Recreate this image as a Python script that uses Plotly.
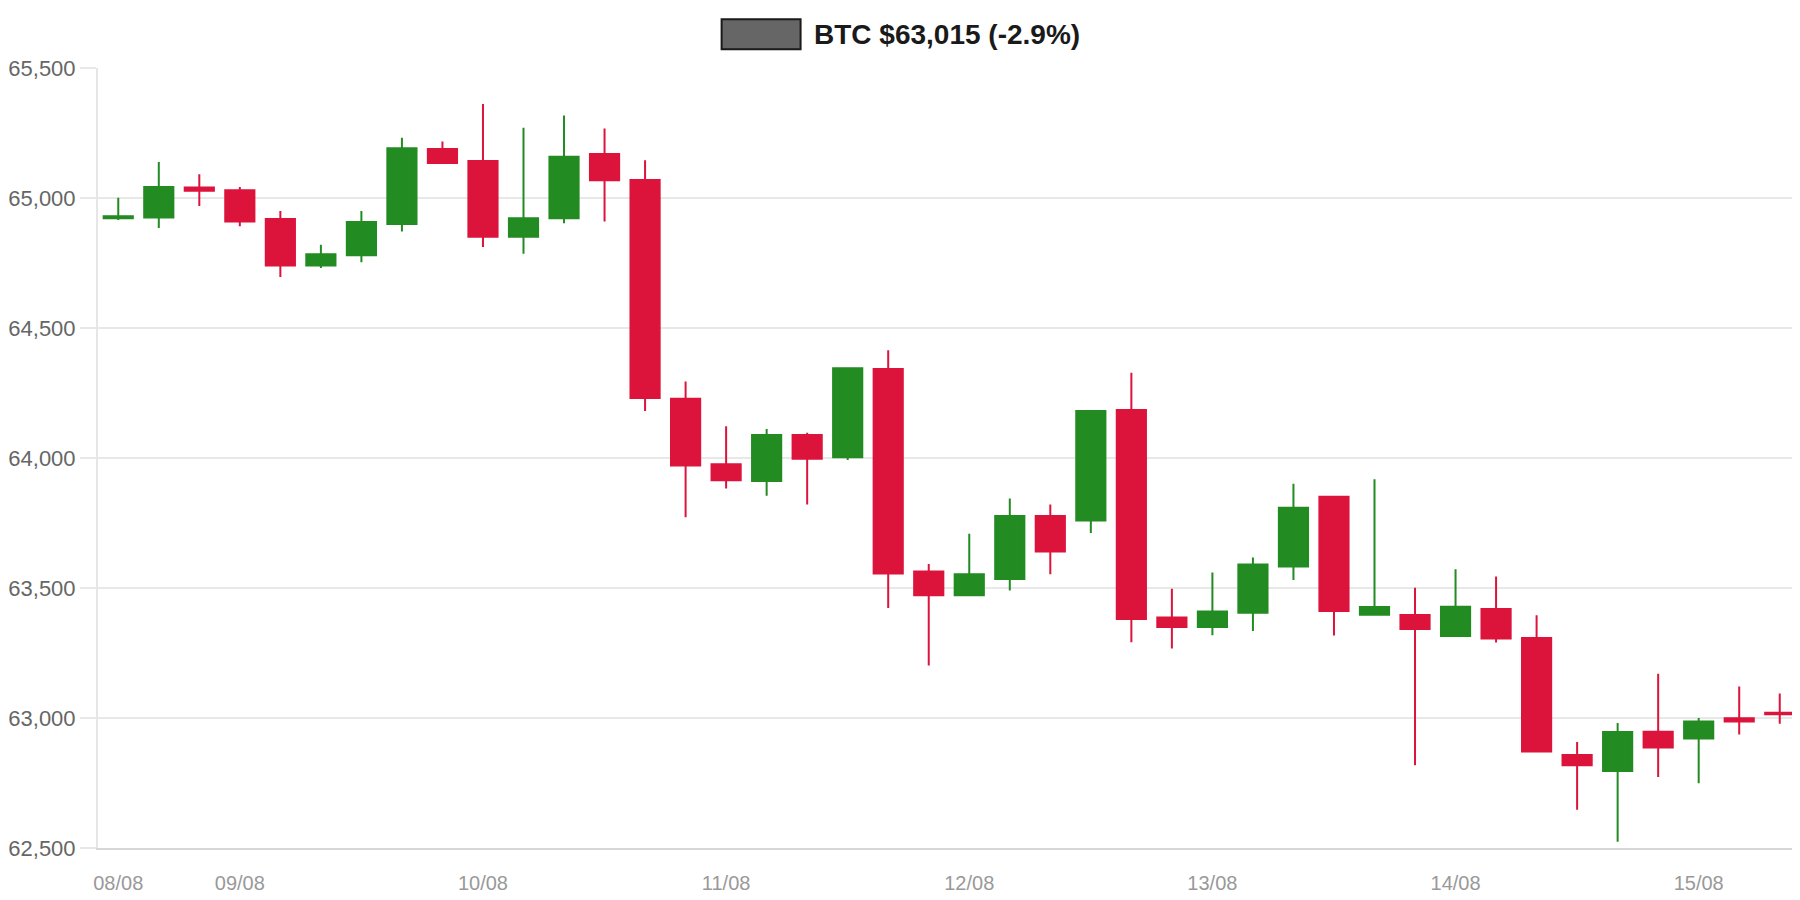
import plotly.graph_objects as go

# 4-hour candles, 08/08 12:00 -> 15/08 08:00
times = [
    "2024-08-08 12:00", "2024-08-08 16:00", "2024-08-08 20:00",
    "2024-08-09 00:00", "2024-08-09 04:00", "2024-08-09 08:00", "2024-08-09 12:00", "2024-08-09 16:00", "2024-08-09 20:00",
    "2024-08-10 00:00", "2024-08-10 04:00", "2024-08-10 08:00", "2024-08-10 12:00", "2024-08-10 16:00", "2024-08-10 20:00",
    "2024-08-11 00:00", "2024-08-11 04:00", "2024-08-11 08:00", "2024-08-11 12:00", "2024-08-11 16:00", "2024-08-11 20:00",
    "2024-08-12 00:00", "2024-08-12 04:00", "2024-08-12 08:00", "2024-08-12 12:00", "2024-08-12 16:00", "2024-08-12 20:00",
    "2024-08-13 00:00", "2024-08-13 04:00", "2024-08-13 08:00", "2024-08-13 12:00", "2024-08-13 16:00", "2024-08-13 20:00",
    "2024-08-14 00:00", "2024-08-14 04:00", "2024-08-14 08:00", "2024-08-14 12:00", "2024-08-14 16:00", "2024-08-14 20:00",
    "2024-08-15 00:00", "2024-08-15 04:00", "2024-08-15 08:00",
]

opens = [64922, 64925, 65040, 65030, 64919, 64740, 64780, 64900, 65188, 65142,
         64851, 64922, 65169, 65069, 64228, 63976, 63912, 64088, 64003, 64342,
         63563, 63472, 63535, 63777, 63760, 64185, 63387, 63350, 63405, 63583,
         63851, 63397, 63396, 63315, 63419, 63308, 62858, 62796, 62947, 62921,
         62999, 63020]
highs = [65001, 65138, 65091, 65042, 64950, 64820, 64950, 65232, 65217, 65362,
         65270, 65317, 65267, 65145, 64294, 64122, 64112, 64097, 64345, 64414,
         63592, 63709, 63844, 63821, 64183, 64328, 63497, 63560, 63617, 63901,
         63851, 63918, 63501, 63572, 63544, 63395, 62908, 62981, 63170, 63000,
         63121, 63094]
lows = [64915, 64885, 64969, 64891, 64696, 64731, 64753, 64871, 65133, 64812,
        64786, 64903, 64910, 64181, 63772, 63883, 63855, 63821, 63992, 63423,
        63202, 63472, 63490, 63553, 63712, 63291, 63267, 63318, 63335, 63531,
        63317, 63397, 62818, 63315, 63290, 62871, 62647, 62524, 62773, 62749,
        62937, 62978]
closes = [64930, 65042, 65028, 64910, 64740, 64784, 64908, 65191, 65135, 64851,
          64922, 65159, 65068, 64231, 63971, 63914, 64088, 63997, 64345, 63556,
          63472, 63553, 63777, 63640, 64181, 63381, 63350, 63410, 63590, 63809,
          63412, 63427, 63342, 63428, 63306, 62871, 62818, 62946, 62887, 62987,
          62987, 63014]

tick_vals = ["2024-08-08 12:00", "2024-08-09", "2024-08-10", "2024-08-11",
             "2024-08-12", "2024-08-13", "2024-08-14", "2024-08-15"]
tick_text = ["08/08", "09/08", "10/08", "11/08", "12/08", "13/08", "14/08", "15/08"]

title_text = "BTC $63,015 (-2.9%)"

FONT = "Liberation Sans, Arial, sans-serif"
UP = "#228B22"
DOWN = "#DC143C"

fig = go.Figure()
fig.add_trace(go.Candlestick(
    x=times, open=opens, high=highs, low=lows, close=closes,
    increasing=dict(fillcolor=UP, line=dict(color=UP, width=2)),
    decreasing=dict(fillcolor=DOWN, line=dict(color=DOWN, width=2)),
    whiskerwidth=0,
    showlegend=False,
))

# legend-style title: grey box + bold text
fig.add_shape(type="rect", xref="paper", yref="paper",
              x0=0.3664, x1=0.4128, y0=1.024, y1=1.0624,
              fillcolor="#666666", line=dict(color="#1a1a1a", width=2))
fig.add_annotation(x=0.4195, y=1.0432, xref="paper", yref="paper",
                   xanchor="left", yanchor="middle", showarrow=False,
                   text="<b>" + title_text + "</b>",
                   font=dict(family=FONT, size=28, color="#1a1a1a"))

# page body adds an 8px margin, so the figure is 8px smaller and shifted
fig.update_layout(
    width=1792, height=892,
    margin=dict(l=86, r=0, t=60, b=52),
    paper_bgcolor="white", plot_bgcolor="white",
    boxgap=0.28, boxgroupgap=0,
    font=dict(family=FONT),
    xaxis=dict(
        type="date",
        range=["2024-08-08 10:00", "2024-08-15 10:00"],
        rangeslider=dict(visible=False),
        tickmode="array", tickvals=tick_vals, ticktext=tick_text,
        showgrid=False, zeroline=False,
        showline=True, linecolor="#d6d6d6", linewidth=2,
        ticks="", ticklabelstandoff=16,
        tickfont=dict(family=FONT, size=20, color="#999999"),
    ),
    yaxis=dict(
        range=[62500, 65500],
        tickmode="array", tickvals=[62500, 63000, 63500, 64000, 64500, 65000, 65500],
        ticktext=["62,500", "63,000", "63,500", "64,000", "64,500", "65,000", "65,500"],
        showgrid=True, gridcolor="#e8e8e8", gridwidth=1.5,
        zeroline=False,
        showline=True, linecolor="#e6e6e6", linewidth=2,
        ticks="outside", ticklen=16, tickcolor="#e8e8e8", tickwidth=1.5,
        tickfont=dict(family=FONT, size=22, color="#666666"),
    ),
)

fig.write_html("out.html")
